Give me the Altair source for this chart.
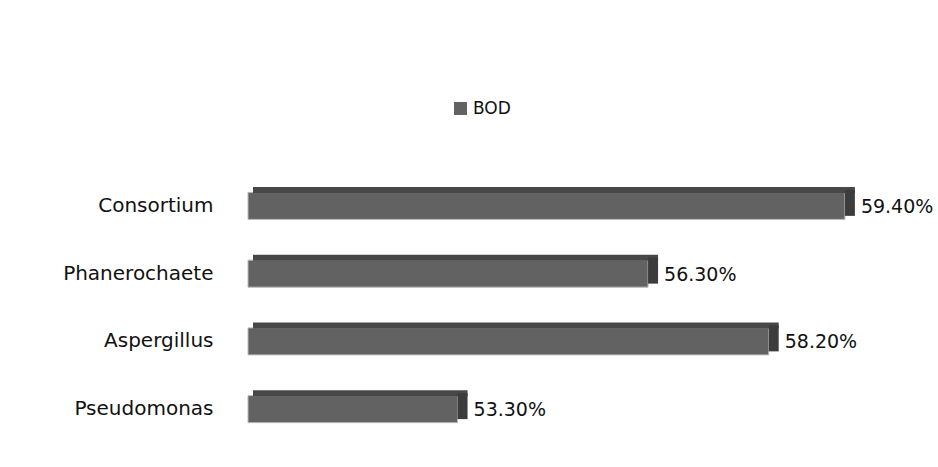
import altair as alt
import pandas as pd

categories = ["Consortium", "Phanerochaete", "Aspergillus", "Pseudomonas"]
values = [59.4, 56.3, 58.2, 53.3]
series = "BOD"
x_min, x_max = 50, 60

df = pd.DataFrame({
    "organism": categories,
    "value": values,
    "base": [x_min] * len(values),
    "series": [series] * len(values),
    "label": [f"{v:.2f}%" for v in values],
})

FRONT = "#626262"
TOP = "#484848"
SIDE = "#3c3c3c"

xs = alt.Scale(domain=[x_min, x_max], nice=False, zero=False)
ys = alt.Scale(domain=categories, paddingInner=0, paddingOuter=0)

base = alt.Chart(df)

front = base.mark_bar(size=27, stroke="#b8b8b8", strokeWidth=1).encode(
    x=alt.X("base:Q", scale=xs, axis=None),
    x2="value:Q",
    y=alt.Y("organism:N", scale=ys, sort=categories,
            axis=alt.Axis(title=None, domain=False, ticks=False, labelPadding=35,
                          labelFont="DejaVu Sans", labelFontSize=20, labelColor="#111")),
    color=alt.Color("series:N", scale=alt.Scale(domain=[series], range=[FRONT]),
                    legend=alt.Legend(title=None, orient="none", legendX=204, legendY=-72,
                                      symbolType="square", symbolSize=170, symbolStrokeWidth=0,
                                      labelFont="DejaVu Sans", labelFontSize=17, labelColor="#111",
                                      labelOffset=4, padding=0)),
)

top = base.mark_bar(size=6, color=TOP, yOffset=-16, xOffset=5, x2Offset=10).encode(
    x=alt.X("base:Q", scale=xs),
    x2="value:Q",
    y=alt.Y("organism:N", scale=ys, sort=categories),
)

side = base.mark_bar(size=26, color=SIDE, yOffset=-3, x2Offset=10).encode(
    x=alt.X("value:Q", scale=xs),
    x2="value:Q",
    y=alt.Y("organism:N", scale=ys, sort=categories),
)

labels = base.mark_text(align="left", baseline="middle", dx=16, dy=1,
                        font="DejaVu Sans", fontSize=19, color="#111").encode(
    x=alt.X("value:Q", scale=xs),
    y=alt.Y("organism:N", scale=ys, sort=categories),
    text="label:N",
)

chart = alt.layer(front, top, side, labels).properties(
    width=635, height=271,
    autosize=alt.AutoSizeParams(type="none"),
    padding={"left": 248, "top": 172, "right": 55, "bottom": 24},
).configure_view(stroke=None)

chart.save("out.html", embed_options={"renderer": "svg", "actions": False})
